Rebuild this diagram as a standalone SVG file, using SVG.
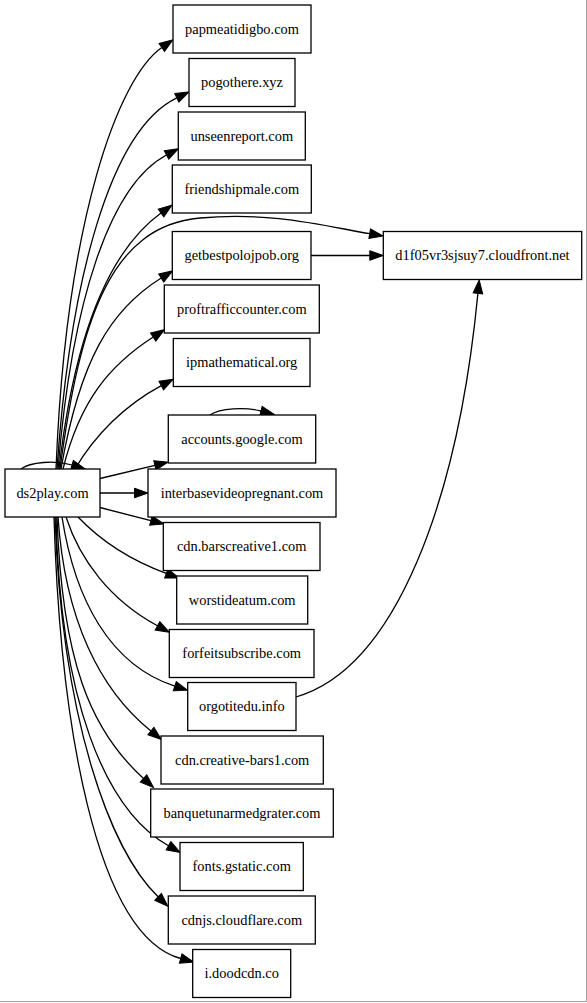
<svg xmlns="http://www.w3.org/2000/svg" width="587" height="1003" viewBox="0 0 587 1003">
<style>
.n rect{fill:#ffffff;stroke:#000000;stroke-width:1.3}
.n text{font-family:"Liberation Serif","Times New Roman",serif;font-size:14.4px;text-anchor:middle;fill:#000000}
.e path{fill:none;stroke:#000000;stroke-width:1.3;marker-end:url(#ah)}
</style>
<defs>
<marker id="ah" markerUnits="userSpaceOnUse" markerWidth="15" markerHeight="12" refX="0" refY="4.8" orient="auto" overflow="visible">
<path d="M0,0 L13.5,4.8 L0,9.6 Z" fill="#000000" stroke="#000000" stroke-width="1"/>
</marker>
</defs>
<rect x="0" y="0" width="587" height="1003" fill="#ffffff"/>
<path d="M586.5,0 V1001.5 H0" fill="none" stroke="#a0a0a0" stroke-width="1"/>
<g class="e" id="connectors">
<path d="M21,469 C30,462 55,460 72,465"/>
<path d="M56,469 C66,220 118,78 161.8,47.5"/>
<path d="M57,469 C70,280 110,130 176.8,97.8"/>
<path d="M58,469 C72,300 110,185 166.5,155"/>
<path d="M59,469 C75,330 110,250 161,213"/>
<path d="M60,469 C80,320 110,226 200,218 C270,211.8 320,225 369.7,233.7"/>
<path d="M61,469 C80,360 110,310 161.2,278"/>
<path d="M63,469 C80,400 110,365 153.2,337"/>
<path d="M75,469 C95,435 125,405 161.3,385.6"/>
<path d="M210,415 C220,408 245,407 261,411"/>
<path d="M100,478.5 L154.9,465.3"/>
<path d="M100,493 L134.5,493"/>
<path d="M100,507.5 L150.9,520.6"/>
<path d="M78,517 C100,540 130,560 166.3,573.4"/>
<path d="M66,517 C80,560 110,600 157.5,625.8"/>
<path d="M62,517 C75,600 110,665 174.8,686.2"/>
<path d="M58,517 C65,620 100,690 150.9,731"/>
<path d="M57,517 C62,660 90,730 143.5,778.4"/>
<path d="M56,517 C60,700 105,810 168.5,845.8"/>
<path d="M55,517 C62,720 110,850 158.1,896.8"/>
<path d="M54,517 C60,720 95,935 180.7,958.5"/>
<path d="M311,255.5 L369.8,255.5"/>
<path d="M296,697 C396,668 458,500 477.9,293.4"/>
</g>
<g class="n" id="ds2play"><rect x="5" y="469" width="95" height="48"/><text x="52.5" y="497.8">ds2play.com</text></g>
<g class="n" id="papmeatidigbo"><rect x="173" y="5" width="138" height="48"/><text x="242" y="33.8">papmeatidigbo.com</text></g>
<g class="n" id="pogothere"><rect x="189" y="58.5" width="106" height="48"/><text x="242" y="87.3">pogothere.xyz</text></g>
<g class="n" id="unseenreport"><rect x="178.3" y="112" width="127" height="48"/><text x="241.8" y="140.8">unseenreport.com</text></g>
<g class="n" id="friendshipmale"><rect x="172.3" y="165" width="139" height="48"/><text x="241.8" y="193.8">friendshipmale.com</text></g>
<g class="n" id="getbestpolojpob"><rect x="172.3" y="231.5" width="138.7" height="48"/><text x="241.7" y="260.3">getbestpolojpob.org</text></g>
<g class="n" id="cloudfront"><rect x="383.3" y="231.5" width="198.4" height="48"/><text x="482.5" y="260.3">d1f05vr3sjsuy7.cloudfront.net</text></g>
<g class="n" id="proftrafficcounter"><rect x="164.3" y="285" width="155" height="48"/><text x="241.8" y="313.8">proftrafficcounter.com</text></g>
<g class="n" id="ipmathematical"><rect x="173.3" y="338.5" width="136.7" height="48"/><text x="241.7" y="367.3">ipmathematical.org</text></g>
<g class="n" id="accountsgoogle"><rect x="168.3" y="415" width="147.4" height="48"/><text x="242" y="443.8">accounts.google.com</text></g>
<g class="n" id="interbasevideopregnant"><rect x="148" y="469" width="188" height="48"/><text x="242" y="497.8">interbasevideopregnant.com</text></g>
<g class="n" id="cdnbarscreative1"><rect x="163.3" y="522.5" width="156.7" height="48"/><text x="241.7" y="551.3">cdn.barscreative1.com</text></g>
<g class="n" id="worstideatum"><rect x="176.7" y="576" width="131" height="48"/><text x="242.2" y="604.8">worstideatum.com</text></g>
<g class="n" id="forfeitsubscribe"><rect x="169.3" y="629.5" width="144.7" height="48"/><text x="241.7" y="658.3">forfeitsubscribe.com</text></g>
<g class="n" id="orgotitedu"><rect x="187.7" y="682.5" width="108.3" height="48"/><text x="241.8" y="711.3">orgotitedu.info</text></g>
<g class="n" id="cdncreativebars1"><rect x="161" y="736" width="162.3" height="48"/><text x="242.2" y="764.8">cdn.creative-bars1.com</text></g>
<g class="n" id="banquetunarmedgrater"><rect x="150.7" y="789" width="182.6" height="48"/><text x="242" y="817.8">banquetunarmedgrater.com</text></g>
<g class="n" id="fontsgstatic"><rect x="180" y="842.5" width="123.3" height="48"/><text x="241.7" y="871.3">fonts.gstatic.com</text></g>
<g class="n" id="cdnjscloudflare"><rect x="168.3" y="896" width="147" height="48"/><text x="241.8" y="924.8">cdnjs.cloudflare.com</text></g>
<g class="n" id="idoodcdn"><rect x="192.7" y="949.5" width="98" height="48"/><text x="241.7" y="978.3">i.doodcdn.co</text></g>
</svg>
